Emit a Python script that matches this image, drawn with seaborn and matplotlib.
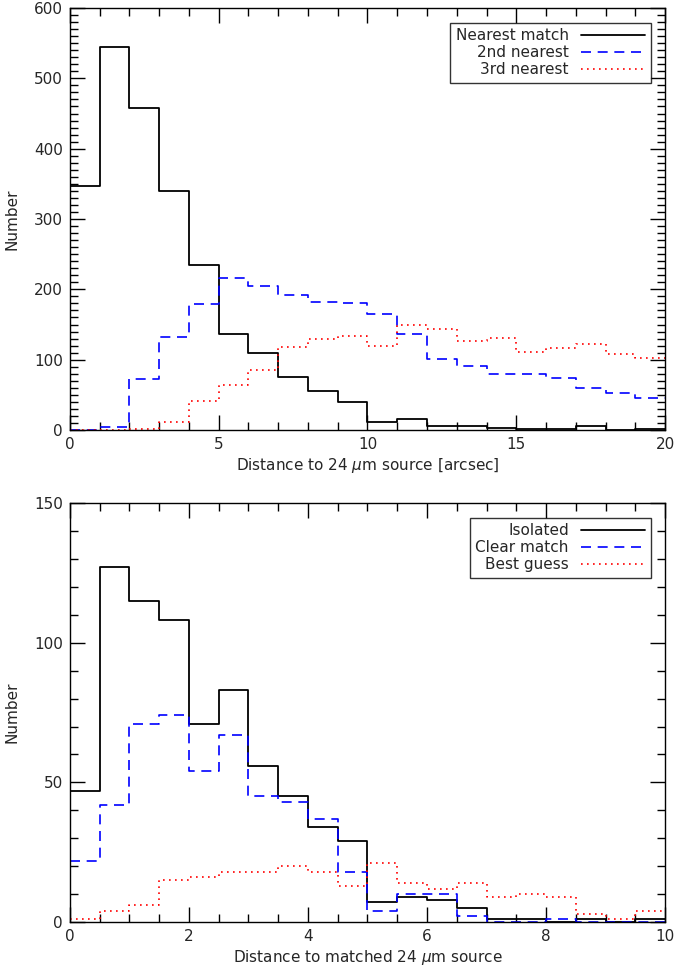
import numpy as np
import pandas as pd
import matplotlib
matplotlib.use('Agg')
import matplotlib.pyplot as plt
import seaborn as sns
from matplotlib.ticker import MultipleLocator

# top panel: distance to 24 um source, 1 arcsec bins
edges_top = np.arange(0, 21, 1)
nearest = [347, 544, 458, 340, 235, 136, 110, 76, 55, 40,
           12, 15, 6, 6, 3, 2, 2, 6, 0, 1]
second = [0, 4, 72, 132, 179, 216, 205, 192, 182, 180,
          165, 137, 101, 91, 80, 80, 74, 60, 53, 45]
third = [0, 0, 1, 12, 41, 64, 85, 118, 129, 134,
         119, 149, 143, 127, 131, 111, 116, 123, 108, 102]
top_labels = ['Nearest match', '2nd nearest', '3rd nearest']

# bottom panel: distance to matched 24 um source, 0.5 arcsec bins
edges_bot = np.arange(0, 10.5, 0.5)
isolated = [47, 127, 115, 108, 71, 83, 56, 45, 34, 29,
            7, 9, 8, 5, 1, 1, 0, 1, 0, 1]
clear = [22, 42, 71, 74, 54, 67, 45, 43, 37, 18,
         4, 10, 10, 2, 0, 0, 1, 0, 0, 0]
best = [1, 4, 6, 15, 16, 18, 18, 20, 18, 13,
        21, 14, 12, 14, 9, 10, 9, 3, 1, 4]
bot_labels = ['Isolated', 'Clear match', 'Best guess']

sns.set_style('ticks')
plt.rcParams['font.family'] = ['DejaVu Sans']
plt.rcParams['mathtext.fontset'] = 'dejavusans'

styles = [dict(color='black', lw=1.3, ls='-'),
          dict(color='#0000ff', lw=1.2, dashes=(6, 4)),
          dict(color='#ff0000', lw=1.2, dashes=(1, 2.6))]

fig = plt.figure(figsize=(6.9, 9.67), dpi=100)
ax1 = fig.add_axes([0.1014, 0.5553, 0.8624, 0.4364])
ax2 = fig.add_axes([0.1014, 0.0465, 0.8624, 0.4333])


def draw_panel(ax, edges, series, labels):
    centers = (edges[:-1] + edges[1:]) / 2
    for vals, lab, st in zip(series, labels, styles):
        df = pd.DataFrame({'dist': centers, 'n': vals})
        sns.histplot(data=df, x='dist', weights='n', bins=list(edges),
                     element='step', fill=False, ax=ax, label=lab, **st)
    leg = ax.legend(loc='upper right', markerfirst=False, frameon=True,
                    fancybox=False, handlelength=4.2, handletextpad=0.8,
                    borderpad=0.35, labelspacing=0.15, fontsize=11,
                    borderaxespad=0.95)
    leg.get_frame().set_edgecolor('black')
    leg.get_frame().set_linewidth(1.0)
    ax.tick_params(which='both', direction='in', top=True, right=True,
                   labelsize=11, width=1.0, color='black', pad=5)
    ax.tick_params(which='major', length=11)
    ax.tick_params(which='minor', length=5.5)
    for sp in ax.spines.values():
        sp.set_linewidth(1.0)
        sp.set_color('black')
    ax.set_ylabel('Number', fontsize=11)
    ax.yaxis.set_label_coords(-0.085, 0.5)


draw_panel(ax1, edges_top, [nearest, second, third], top_labels)
ax1.set_xlim(0, 20)
ax1.set_ylim(0, 600)
ax1.xaxis.set_major_locator(MultipleLocator(5))
ax1.xaxis.set_minor_locator(MultipleLocator(1))
ax1.yaxis.set_major_locator(MultipleLocator(100))
ax1.yaxis.set_minor_locator(MultipleLocator(10))
ax1.set_xlabel(r'Distance to 24 $\mu$m source [arcsec]', fontsize=11, labelpad=3)

draw_panel(ax2, edges_bot, [isolated, clear, best], bot_labels)
ax2.set_xlim(0, 10)
ax2.set_ylim(0, 150)
ax2.xaxis.set_major_locator(MultipleLocator(2))
ax2.xaxis.set_minor_locator(MultipleLocator(0.5))
ax2.yaxis.set_major_locator(MultipleLocator(50))
ax2.yaxis.set_minor_locator(MultipleLocator(10))
ax2.set_xlabel(r'Distance to matched 24 $\mu$m source', fontsize=11, labelpad=3)

fig.savefig('out.png', dpi=100)
